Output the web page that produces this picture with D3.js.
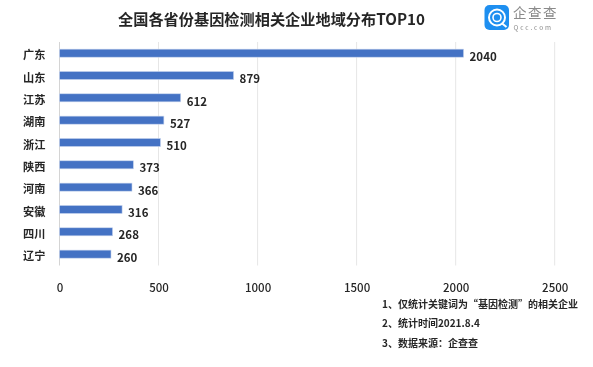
<!DOCTYPE html>
<html><head><meta charset="utf-8">
<script src="https://cdn.jsdelivr.net/npm/d3@7/dist/d3.min.js"></script>
<style>
html,body{margin:0;padding:0;background:#fff}
svg{display:block;filter:blur(0.35px)}
text{font-family:"Noto Sans CJK SC","Noto Sans",sans-serif;fill:#262626}
</style></head><body>
<svg id="c" width="593" height="367"></svg>
<script>
const categories=["广东","山东","江苏","湖南","浙江","陕西","河南","安徽","四川","辽宁"];
const values=[2040,879,612,527,510,373,366,316,268,260];
const xTicks=[0,500,1000,1500,2000,2500];
const titleText="全国各省份基因检测相关企业地域分布TOP10";
const notes=["1、仅统计关键词为“基因检测”的相关企业","2、统计时间2021.8.4","3、数据来源：企查查"];
const logoName="企查查", logoSub="Qcc.com";

const svg=d3.select("#c");
const x=d3.scaleLinear().domain([0,2500]).range([59.5,554.7]);
const y=d3.scaleBand().domain(categories).range([42,265.3]).paddingInner(0.64).paddingOuter(0.32);

// gridlines
svg.append("g").selectAll("line").data(xTicks).join("line")
  .attr("x1",d=>x(d)).attr("x2",d=>x(d)).attr("y1",42).attr("y2",265.5)
  .attr("stroke",d=>d===0?"#d4d4d4":"#e6e6e6").attr("stroke-width",1);

// axis labels
const xAxis=d3.axisBottom(x).tickValues(xTicks).tickSize(0).tickPadding(0).tickFormat(d3.format("d"));
const gx=svg.append("g").attr("transform","translate(0,283)").call(xAxis);
gx.select(".domain").remove();
gx.selectAll("text").attr("y",0).attr("dy","0.8em").style("font-size","11.5px").style("font-weight",500);

// category labels
const yAxis=d3.axisLeft(y).tickSize(0).tickPadding(0);
const gy=svg.append("g").attr("transform","translate(45.5,2.5)").call(yAxis);
gy.select(".domain").remove();
gy.selectAll("text").style("font-size","11.2px").style("font-weight",700);

// bars
svg.append("g").selectAll("rect").data(values).join("rect")
  .attr("x",x(0)).attr("y",(d,i)=>y(categories[i]))
  .attr("width",d=>x(d)-x(0)).attr("height",y.bandwidth())
  .attr("fill","#4472c4").attr("stroke","#c9d6ee").attr("stroke-width",0.6);

// value labels
svg.append("g").selectAll("text").data(values).join("text")
  .attr("x",d=>x(d)+6)
  .attr("dy","0.72em").style("font-size","11.5px").style("font-weight",600)
  .attr("y",(d,i)=>y(categories[i])+y.bandwidth()/2-0.6)
  .text(d=>d);

// title
svg.append("text").attr("x",118).attr("y",25).style("font-size","15.2px").style("font-weight",700).text(titleText);

// notes
svg.append("g").selectAll("text").data(notes).join("text")
  .attr("x",382).attr("y",(d,i)=>307.5+i*19.5).style("font-size","10px").style("font-weight",600).text(d=>d);

// logo
const logo=svg.append("g");
logo.append("rect").attr("x",484.5).attr("y",5).attr("width",24.5).attr("height",25).attr("rx",5).attr("fill","#1e8ff0");
logo.append("circle").attr("cx",497).attr("cy",17.5).attr("r",8).attr("fill","none").attr("stroke","#fff").attr("stroke-width",2);
logo.append("circle").attr("cx",497).attr("cy",17.5).attr("r",4).attr("fill","none").attr("stroke","#fff").attr("stroke-width",1.6);
logo.append("line").attr("x1",501.5).attr("y1",23).attr("x2",506.5).attr("y2",27).attr("stroke","#fff").attr("stroke-width",2);
logo.append("text").attr("x",513).attr("y",17.5).style("font-size","13.5px").style("letter-spacing","1.5px").style("fill","#8a8a8a").text(logoName);
logo.append("text").attr("x",513.5).attr("y",29.5).style("font-size","6.5px").style("letter-spacing","1.9px").style("fill","#8a8a8a").text(logoSub);
</script>
</body></html>
